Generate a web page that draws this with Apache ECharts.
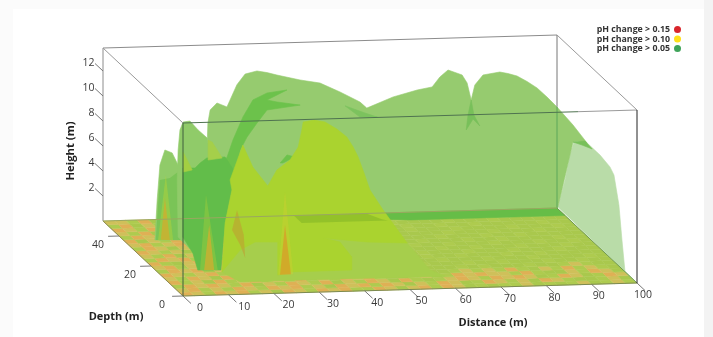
<!DOCTYPE html>
<html>
<head>
<meta charset="utf-8">
<title>pH change</title>
<style>
html, body { margin: 0; padding: 0; background: #fbfbfb; }
#chart { width: 713px; height: 337px; }
</style>
<script src="https://cdn.jsdelivr.net/npm/echarts@6/dist/echarts.min.js"></script>
</head>
<body>
<div id="chart"></div>
<script>
// box size in metres
const maxDistance = 100;
const maxDepth = 50;
const maxHeight = 13.84;

const distanceTicks = [0, 10, 20, 30, 40, 50, 60, 70, 80, 90, 100];
const depthTicks = [0, 20, 40];
const heightTicks = [2, 4, 6, 8, 10, 12];

const legendNames = ['pH change > 0.15', 'pH change > 0.10', 'pH change > 0.05'];

const floorRows = [
  '3213231203213231132023132010112010120121',
  '2312132132312032313202132013212032100120',
  '1323213021321302132031012321323201320132',
  '3120312312130213231001201323221310021320',
  '2132031321321012013201000121213102131210',
  '3212313120211010021000100010100010012100',
  '1323021312100101000100010001001000100100',
  '2312132031010010001001000100010001000010',
  '3102313212001000100000101001000100100000',
  '1323120313100100010010001000100010001000',
  '2130231221010001000100100010010001000100',
  '3212031310001001000010001001000100010010',
  '1320213212100010010001000100010010000100',
  '2312302131010000100100010001000100100000',
  '3021321230001001000010010000100010001000',
  '1323021310100010001000100100010000100010',
  '2130312301000100100010000100100100000100',
  '3213023120010000010001001000010001000000',
  '1302132100100010001000000100010000100000',
  '2213021010001000100010000010000100000010'
];

// surfaces: [distance, height] on a plane of constant depth
const backSheet = [[22.5,0],[22.9,5.44],[23.1,7.6],[23.6,8.64],[25.1,9.18],[27.3,8.84],[29.5,10.6],[31.3,11.43],[33.9,11.65],[36.1,11.5],[38.3,11.28],[43.4,10.83],[47.8,10.54],[52.2,9.78],[56.6,8.93],[58.1,8.43],[63.9,9.26],[69.2,9.76],[72.5,9.97],[74.2,10.75],[76,11.29],[79.1,10.86],[80.2,10.21],[81.1,8.84],[81.9,10.03],[83.7,10.81],[87.4,11.01],[89.2,10.87],[91.2,10.65],[93.4,10.19],[95.6,9.65],[97.8,8.9],[100,8.08],[100,0]];
const backFold1 = [[81.1,8.84],[81.7,7.63],[83,6.74],[81.5,7.31],[80,6.45],[80.4,7.64]];
const backFold2 = [[53.3,8.66],[57.7,8.04],[60.4,7.69],[56.6,7.73]];
const forkStripe = [[37,11.3],[32.6,11.1],[29.5,10.58],[27.3,9.24],[25.1,7.42],[23.8,6.07],[22.2,5.05],[25.6,4.86],[26.7,6.6],[28.2,7.62],[30.4,8.72],[32.6,9.74],[39.9,10.06],[34.8,10.36],[32.6,10.54]];
const smallPatch = [[35.5,5.47],[37,6.1],[38.8,5.92],[36.1,5.46]];
const leftSheet = [[6.5,0.09],[7,3.29],[7.6,6.08],[8.7,7.27],[10.3,7.02],[11.6,6.04],[12.2,3.23],[12.7,0.03]];
const leftLower = [[6.7,0.09],[7.2,2.89],[7.6,4.88],[9.8,5.02],[12.7,5.78],[12.7,0.03]];
const tallSheet = [[9.5,1.02],[9.3,5.58],[9.5,7.98],[9.9,9.58],[10.6,10.21],[12.1,10.27],[13.9,9.54],[15.9,8.87],[16.5,7.27],[17.2,4.7],[15.4,0.32],[12.1,0.03]];
const darkCluster = [[5.6,8.26],[8.3,8.23],[9.4,8.62],[10.9,9.01],[14.9,9.05],[17.1,7.82],[16.4,6.39],[14.9,3.77],[14,0.02],[8.9,0.06],[7.8,1.44],[5.6,2.74]];

// yellow level
const yellowLow = [[11.4,0.84],[15.4,2.72],[18.7,3.33],[24.2,3.27],[33,3.5],[39.6,3.27],[52.2,2.74],[57.2,0.53],[60.5,0],[28.6,0.02],[15.4,0]];
const yellowPeak = [[12.1,0.59],[12.8,4.5],[14.3,7.13],[13.9,7.94],[16.7,10.7],[18.9,8.92],[22.2,7.37],[24.2,8.63],[27.1,9.4],[28.9,10.42],[29.7,11.77],[30,12.41],[32.4,12.54],[34.8,12.36],[37.4,11.77],[39.6,11.11],[41,10.3],[42.1,9.48],[43.4,8.19],[44.7,6.82],[47.6,5.18],[52.9,2.49],[44.1,2.66],[34.4,3.08],[38.1,2.72],[40.7,1.5],[40.7,0.46],[27.1,0.44],[24.4,0.22],[24.4,2.86],[19.4,2.92],[16.1,2.31]];
const yellowTip1 = [[10.6,7.81],[12.6,6.35],[10.6,6.21]];
const yellowTip2 = [[16.1,8.71],[17,8.54],[19.2,7.24],[16.1,7.11]];
const yellowSpike1 = [[7.2,0.09],[10.5,0.05],[8.9,5.26]];
const yellowSpike2 = [[9.4,0.06],[13.3,0],[10.7,6.05]];
const yellowSpike3 = [[25.2,0],[28.5,0],[26.7,6.6]];

// orange level
const redSpike1 = [[7.8,0.09],[9.8,0.06],[8.7,3.43]];
const redSpike2 = [[10.3,0.05],[12.5,0.03],[11.4,3.64]];
const redSpike3 = [[25.6,0],[28,0],[26.7,3.96]];
const redSpike4 = [[20,3.91],[18.9,2.32],[20.7,1.1],[21.8,0.06],[21.5,1.9]];

// sheets on the right hand wall: [depth, height]
const wallUpper = [[50,8.08],[40,7.84],[31.25,7.46],[36.9,6.93],[40,6.48],[49.4,0.16],[50,0]];
const wallFold = [[40,6.48],[32.5,7.46],[28,7.36],[34.4,6.91]];
const wallSheet = [[49.4,0.16],[45,2.84],[41.9,5.22],[39.4,6.56],[32.5,7.46],[23.1,7.46],[16.9,7.26],[14.4,6.91],[11.3,4.89],[9.4,2.31],[7.5,0],[0,0]];

// band lying on the floor along the back: [distance, depth]
const floorBand = [[58,50],[100,50],[100,45],[66,45],[60,46]];
const floorBandYellow = [[42,50],[58,50],[60,46],[61,45],[42,45]];

const greenSurfaces = [
  { pts: wallSheet, wall: true, fill: '#b9dca8' },
  { pts: wallUpper, wall: true, fill: '#96cb6f' },
  { pts: backSheet, depth: 50, fill: '#96cb6f' },
  { pts: floorBand, flat: true, fill: '#66bd47' },
  { pts: backFold1, depth: 50, fill: '#78c05a' },
  { pts: backFold2, depth: 50, fill: '#7cc25e' },
  { pts: wallFold, wall: true, fill: '#78c05a' },
  { pts: forkStripe, depth: 40, fill: '#6cc24b' },
  { pts: smallPatch, depth: 40, fill: '#6cc24b' },
  { pts: leftSheet, depth: 36, fill: '#90cb69' },
  { pts: leftLower, depth: 36, fill: 'rgba(100,190,70,0.5)' },
  { pts: tallSheet, depth: 30, fill: '#90cb69' },
  { pts: darkCluster, depth: 16, fill: '#62bd4a' }
];
const yellowSurfaces = [
  { pts: yellowLow, depth: 8, fill: '#a6ce4c' },
  { pts: yellowPeak, depth: 10, fill: '#aad32f' },
  { pts: floorBandYellow, flat: true, fill: 'rgba(90,150,30,0.28)' },
  { pts: yellowTip1, depth: 30, fill: '#a3cf42' },
  { pts: yellowTip2, depth: 30, fill: '#a5cf4a' },
  { pts: yellowSpike1, depth: 36, fill: 'rgba(190,215,50,0.4)' },
  { pts: yellowSpike2, depth: 16, fill: 'rgba(160,205,60,0.45)' },
  { pts: yellowSpike3, depth: 12, fill: 'rgba(215,205,50,0.35)' }
];
const redSurfaces = [
  { pts: redSpike1, depth: 36, fill: 'rgba(225,165,40,0.6)' },
  { pts: redSpike2, depth: 16, fill: 'rgba(225,170,45,0.65)' },
  { pts: redSpike3, depth: 12, fill: 'rgba(215,160,40,0.8)' },
  { pts: redSpike4, depth: 23, fill: 'rgba(190,160,50,0.6)' }
];

const floorColors = ['#a9c84d', '#aecb4f', '#cfc05a', '#dfb055'];
const cellDistance = 2.5;
const cellDepth = 2.5;

// oblique view: depth shifts a point left and up, distance tilts it up a little
function project(api, distance, depth, height) {
  return api.coord([distance - depth * 0.3524, height + depth * 0.12 + distance * 0.0104]);
}

function surfacePoints(api, s) {
  return s.pts.map(function (p) {
    if (s.wall) return project(api, maxDistance, p[0], p[1]);
    if (s.flat) return project(api, p[0], p[1], 0);
    return project(api, p[0], s.depth, p[1]);
  });
}

function surfaceSeries(name, dot, surfaces) {
  return {
    name: name,
    type: 'custom',
    silent: true,
    animation: false,
    itemStyle: { color: dot },
    data: surfaces.map(function (s, i) { return [i]; }),
    renderItem: function (params, api) {
      const s = surfaces[params.dataIndex];
      const solid = s.fill.charAt(0) === '#';
      return {
        type: 'polygon',
        shape: { points: surfacePoints(api, s) },
        style: { fill: s.fill, stroke: solid ? s.fill : null, lineWidth: solid ? 0.6 : 0 }
      };
    }
  };
}

const floorCells = [];
floorRows.forEach(function (row, r) {
  row.split('').forEach(function (v, c) {
    floorCells.push([c, r, +v]);
  });
});

const floorSeries = {
  name: 'floor',
  type: 'custom',
  silent: true,
  animation: false,
  data: floorCells,
  renderItem: function (params, api) {
    const c = api.value(0), r = api.value(1);
    const d0 = c * cellDistance, d1 = d0 + cellDistance;
    const z0 = r * cellDepth, z1 = z0 + cellDepth;
    const color = floorColors[api.value(2)];
    return {
      type: 'polygon',
      shape: { points: [project(api, d0, z0, 0), project(api, d1, z0, 0), project(api, d1, z1, 0), project(api, d0, z1, 0)] },
      style: { fill: color, stroke: color, lineWidth: 0.5 }
    };
  }
};

// box edges and ticks: [from, to, colour] with points as [distance, depth, height]
const frameLines = [
  [[0, maxDepth, maxHeight], [maxDistance, maxDepth, maxHeight], '#8c8c8c'],
  [[0, maxDepth, 0], [0, maxDepth, maxHeight], '#8c8c8c'],
  [[maxDistance, maxDepth, 0], [maxDistance, maxDepth, 8.1], '#5da85a'],
  [[maxDistance, maxDepth, 8.1], [maxDistance, maxDepth, maxHeight], '#777777'],
  [[0, maxDepth, maxHeight], [0, 0, maxHeight], '#9a9a9a'],
  [[maxDistance, maxDepth, maxHeight], [maxDistance, 0, maxHeight], '#9a9a9a'],
  [[0, 0, 0], [0, maxDepth, 0], '#8a8a50'],
  [[maxDistance, 0, 0], [maxDistance, maxDepth, 0], '#6f9a50'],
  [[0, maxDepth, 0], [maxDistance, maxDepth, 0], '#9aa860'],
  [[0, 0, 0], [maxDistance, 0, 0], '#7c8a50'],
  [[0, 0, maxHeight], [87, 0, maxHeight], '#4f7350'],
  [[87, 0, maxHeight], [maxDistance, 0, maxHeight], '#9a9a9a'],
  [[0, 0, 0], [0, 0, maxHeight], '#3f5f3f'],
  [[maxDistance, 0, 0], [maxDistance, 0, maxHeight], '#222222']
];
heightTicks.forEach(function (v) { frameLines.push([[0, maxDepth, v], [0, maxDepth + 5, v], '#777777']); });
distanceTicks.forEach(function (v) { frameLines.push([[v, 0, 0], [v, -5, 0], '#777777']); });
depthTicks.forEach(function (v) { frameLines.push([[0, v, 0], [-2.4, v, 0], '#777777']); });

const frameSeries = {
  name: 'frame',
  type: 'custom',
  silent: true,
  animation: false,
  z: 5,
  data: frameLines.map(function (l, i) { return [i]; }),
  renderItem: function (params, api) {
    const l = frameLines[params.dataIndex];
    const a = project(api, l[0][0], l[0][1], l[0][2]);
    const b = project(api, l[1][0], l[1][1], l[1][2]);
    return {
      type: 'line',
      shape: { x1: a[0], y1: a[1], x2: b[0], y2: b[1] },
      style: { stroke: l[2], lineWidth: 1 }
    };
  }
};

const tickFont = '10.5px "Open Sans"';
const tickLabels = [];
heightTicks.forEach(function (v) { tickLabels.push({ at: [0, maxDepth, v], dx: -8.5, dy: -7.5, align: 'right', text: String(v) }); });
distanceTicks.forEach(function (v) { tickLabels.push({ at: [v, 0, 0], dx: 17 - v * 0.11, dy: 12, align: 'center', text: String(v) }); });
depthTicks.forEach(function (v) { tickLabels.push({ at: [0, v, 0], dx: -21, dy: 9, align: 'center', text: String(v) }); });

const labelSeries = {
  name: 'labels',
  type: 'custom',
  silent: true,
  animation: false,
  z: 6,
  data: tickLabels.map(function (l, i) { return [i]; }),
  renderItem: function (params, api) {
    const l = tickLabels[params.dataIndex];
    const p = project(api, l.at[0], l.at[1], l.at[2]);
    return {
      type: 'text',
      style: {
        x: p[0] + l.dx, y: p[1] + l.dy, text: l.text, align: l.align,
        verticalAlign: 'middle', font: tickFont, fill: '#3a3a3a'
      }
    };
  }
};

const chart = echarts.init(document.getElementById('chart'), null, { renderer: 'canvas' });
chart.setOption({
  animation: false,
  textStyle: { fontFamily: 'Open Sans' },
  grid: { left: 183, right: 76, top: 123, bottom: 41 },
  xAxis: { type: 'value', min: 0, max: maxDistance, show: false },
  yAxis: { type: 'value', min: 0, max: maxHeight, show: false },
  legend: {
    data: legendNames,
    orient: 'vertical',
    align: 'right',
    right: 32,
    top: 25,
    padding: 0,
    icon: 'circle',
    itemWidth: 7,
    itemHeight: 7,
    itemGap: 0.5,
    selectedMode: false,
    textStyle: { fontFamily: 'Open Sans', fontWeight: 'bold', fontSize: 8.8, color: '#333333', padding: [0, -1, 0, 0] }
  },
  graphic: [
    { type: 'rect', z: -11, shape: { x: 704, y: 0, width: 9, height: 337 }, style: { fill: '#f3f3f3' } },
    { type: 'rect', z: -10, shape: { x: 13, y: 9, width: 691, height: 340 }, style: { fill: '#ffffff' } },
    { type: 'text', x: 71, y: 151, rotation: Math.PI / 2, style: { text: 'Height (m)', font: 'bold 11.3px "Open Sans"', fill: '#222222', align: 'center', verticalAlign: 'middle' } },
    { type: 'text', x: 116, y: 317, style: { text: 'Depth (m)', font: 'bold 11px "Open Sans"', fill: '#222222', align: 'center', verticalAlign: 'middle' } },
    { type: 'text', x: 493, y: 323, style: { text: 'Distance (m)', font: 'bold 11px "Open Sans"', fill: '#222222', align: 'center', verticalAlign: 'middle' } }
  ],
  series: [
    floorSeries,
    surfaceSeries(legendNames[2], '#3fa35a', greenSurfaces),
    surfaceSeries(legendNames[1], '#ffe01a', yellowSurfaces),
    surfaceSeries(legendNames[0], '#d9262c', redSurfaces),
    frameSeries,
    labelSeries
  ]
});
</script>
</body>
</html>
